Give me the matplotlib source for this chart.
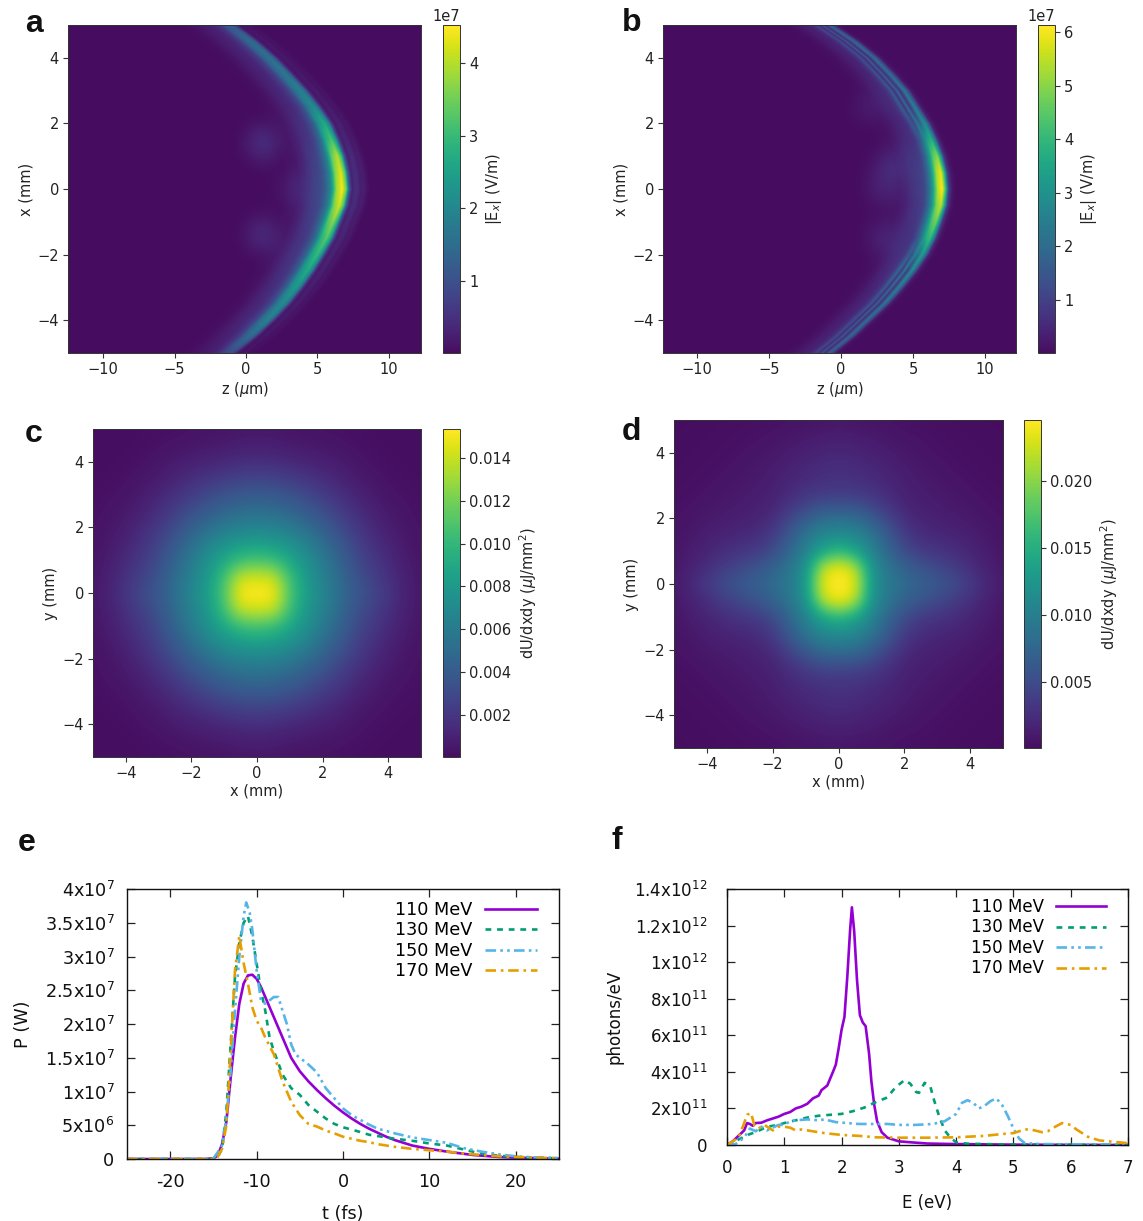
import numpy as np
import matplotlib
matplotlib.use("Agg")
import matplotlib.pyplot as plt
from matplotlib.colors import ListedColormap

W, H = 1143, 1221
plt.rcParams['font.family'] = ['DejaVu Sans']
plt.rcParams['mathtext.fontset'] = 'dejavusans'

# ---------- panels a, b: wavefront ridge read per row ----------
row_x = [5, 4.5, 4, 3.5, 3, 2.5, 2, 1.5, 1, .5, 0, -.5, -1, -1.5, -2, -2.5, -3, -3.5, -4, -4.5, -5]
ridge_a = [-1.1, .4, 1.7, 2.8, 3.85, 4.75, 5.5, 6.0, 6.4, 6.65, 6.75, 6.55, 6.1, 5.65, 5.0, 4.3, 3.5, 2.6, 1.5, .3, -1.1]
amp_a = [1.2, 1.5, 1.6, 1.7, 1.9, 2.1, 2.7, 3.2, 4.0, 4.3, 4.5, 4.2, 3.7, 3.3, 3.0, 2.7, 2.4, 2.1, 1.9, 1.5, 1.0]
ridge_b = [-.8, .9, 2.3, 3.4, 4.4, 5.1, 5.8, 6.3, 6.7, 6.95, 7.05, 6.95, 6.6, 6.2, 5.65, 4.9, 4.0, 3.0, 1.8, .6, -.8]
amp_b = [1.8, 2.0, 2.1, 2.2, 2.4, 2.6, 3.0, 3.8, 5.0, 5.9, 6.1, 5.5, 4.8, 4.1, 3.4, 3.0, 2.6, 2.3, 2.1, 2.0, 1.8]
off_a = [-4, -3, -2.5, -2, -1.5, -1.2, -.8, -.4, 0, .3, .5, .7, .9, 1.1, 1.3, 1.5, 1.7, 2]
prof_a = [0, .03, .08, .15, .2, .27, .45, .85, 1, .75, .25, .06, .1, .1, .05, .06, .03, 0]
off_b = [-4, -3, -2.5, -2, -1.5, -1.2, -.9, -.7, -.5, -.3, 0, .25, .45, .7, 1]
prof_b_centre = [0, .02, .06, .12, .16, .2, .35, .5, .7, .9, 1, .65, .15, .03, 0]
prof_b_edge = [0, .02, .06, .14, .2, .3, .65, .25, .8, .25, 1, .55, .12, .03, 0]
blobs_a = [(1.2, 1.4, .38), (1.2, -1.4, .34), (3.5, 0, .22)]
blobs_b = [(3.5, .7, .4), (3.0, 0, .3), (3.0, -1.5, .32), (2.0, 2.5, .2)]

# ---------- panels c, d: quadrant of the fluence map (units of 1e-3) ----------
quad_c = [
    [15.4, 15.4, 11, 8.3, 6.8, 5.2, 3.9, 3.0, 2.0, 1.0, .5],
    [14.2, 14, 10.5, 8, 6.5, 5.0, 3.6, 2.6, 1.7, .9, .5],
    [10.8, 10.4, 9, 7.5, 6.0, 4.6, 3.2, 2.2, 1.4, .8, .4],
    [8.5, 8.2, 7.6, 6.5, 5.2, 4, 2.7, 1.8, 1.1, .6, .35],
    [6.6, 6.5, 6, 5.2, 4.3, 3.2, 2.2, 1.4, .8, .5, .3],
    [5.2, 5.1, 4.7, 4, 3.3, 2.4, 1.6, 1, .6, .4, .25],
    [4, 3.9, 3.5, 3, 2.3, 1.7, 1.1, .7, .4, .3, .2],
    [2.7, 2.6, 2.3, 1.9, 1.5, 1.1, .7, .5, .3, .2, .15],
    [1.6, 1.5, 1.3, 1.1, .9, .7, .5, .3, .2, .15, .1],
    [.9, .8, .7, .6, .5, .4, .3, .2, .15, .1, .1],
    [.5, .5, .4, .35, .3, .25, .2, .15, .1, .1, .1]]
quad_d = [
    [24.6, 24, 12.5, 9.5, 8, 7, 6, 5.2, 3.5, 2, 1],
    [24.6, 22, 12, 9, 7.2, 5.8, 4.8, 3.7, 2.5, 1.5, .8],
    [16, 14, 10.5, 7.5, 5, 3.6, 3, 2.5, 1.8, 1.2, .7],
    [11.5, 11, 9, 6.3, 3.6, 2.4, 2, 1.7, 1.3, .9, .6],
    [8.5, 8.2, 6.5, 4.5, 2.4, 1.7, 1.4, 1.2, 1, .7, .5],
    [5, 4.8, 4, 2.7, 1.7, 1.3, 1.1, .9, .7, .5, .4],
    [3, 2.9, 2.5, 2, 1.4, 1.1, .9, .7, .5, .4, .3],
    [2.6, 2.4, 2, 1.6, 1.2, .9, .7, .5, .4, .3, .25],
    [2, 1.8, 1.5, 1.2, .9, .7, .5, .4, .3, .25, .2],
    [1.3, 1.2, 1, .8, .6, .5, .4, .3, .25, .2, .15],
    [.8, .7, .6, .5, .4, .35, .3, .25, .2, .15, .15]]

# ---------- panel e ----------
labels = ['110 MeV', '130 MeV', '150 MeV', '170 MeV']
colors = ['#9400d3', '#009e73', '#56b4e9', '#e69f00']
styles = ['-', (0, (2.2, 2.2)), (0, (4, 1.6, 1, 1.6, 1, 1.6)), (0, (4, 1.8, 1, 1.8))]

t110 = [-25, -16, -15, -14.5, -14, -13.5, -13, -12.5, -12, -11.5, -11, -10.5, -10, -9.5, -9, -8, -7, -6, -5, -4, -3, -2, -1, 0, 1, 2, 3, 4, 5, 6, 8, 10, 12, 15, 18, 20, 25]
p110 = [0, 0, .1, .5, 2.2, 5.5, 12, 18, 23, 26, 27.2, 27.3, 26.7, 25.5, 24, 21, 18, 15, 13, 11.5, 10.2, 9, 7.9, 6.9, 6, 5.2, 4.5, 3.9, 3.3, 2.8, 2, 1.5, 1.1, .6, .3, .2, .05]
t130 = [-25, -15, -14.5, -14, -13.5, -13, -12.5, -12, -11.5, -11, -10.5, -10, -9.5, -9, -8.5, -8, -7, -6, -5, -4, -3, -2, -1, 0, 2, 3, 4, 6, 8, 10, 12, 14, 16, 18, 20, 25]
p130 = [0, 0, .3, 1.5, 7, 17, 27, 32, 35, 36, 33, 29, 25, 22, 18, 16, 12.5, 10.5, 9.5, 8, 7, 6, 5.2, 4.7, 4, 3.6, 3.4, 3, 2.7, 2.3, 2, 1.4, .8, .5, .3, .1]
t150 = [-25, -15.5, -15, -14.5, -14, -13.5, -13, -12.5, -12, -11.5, -11.2, -10.8, -10.5, -10, -9.5, -9, -8.5, -8, -7.5, -7, -6.5, -6, -5.5, -5, -4, -3, -2, -1, 0, 1, 2, 3, 4, 6, 8, 10, 12, 14, 16, 18, 20, 22, 25]
p150 = [0, 0, .1, 1, 2, 6, 13, 22, 30, 36, 38, 36.5, 34, 28, 23.5, 23, 23.5, 24, 24, 22, 20, 17, 15.5, 15, 14, 12.8, 10.5, 9, 7.5, 6.5, 5.8, 5.1, 4.5, 3.8, 3.2, 2.8, 2.4, 1.6, 1.1, .7, .4, .25, .15]
t170 = [-25, -15, -14.5, -14, -13.5, -13, -12.5, -12, -11.5, -11, -10.5, -10, -9.5, -9, -8, -7, -6, -5, -4, -3, -2, -1, 0, 1, 2, 3, 4, 6, 8, 10, 12, 14, 16, 18, 20, 25]
p170 = [0, 0, .3, 1.5, 5, 16, 28, 33, 29, 26, 22.5, 20.5, 19.5, 18, 15.5, 11.5, 8.5, 6.5, 5.2, 4.8, 4.2, 3.8, 3.3, 3, 2.7, 2.5, 2.2, 1.8, 1.5, 1.3, 1.1, .8, .6, .4, .3, .1]

# ---------- panel f ----------
e110 = [0, .1, .2, .3, .35, .4, .45, .5, .6, .7, .8, .9, 1, 1.1, 1.2, 1.3, 1.4, 1.5, 1.6, 1.65, 1.75, 1.85, 1.9, 1.95, 2, 2.05, 2.1, 2.15, 2.18, 2.22, 2.27, 2.32, 2.37, 2.42, 2.48, 2.52, 2.57, 2.62, 2.7, 2.8, 2.9, 3, 3.2, 3.5, 4, 5, 7]
n110 = [0, .2, .5, .8, 1.2, 1.15, 1.05, 1.2, 1.22, 1.35, 1.45, 1.55, 1.7, 1.8, 2.0, 2.1, 2.25, 2.55, 2.7, 3, 3.25, 4.0, 4.4, 5.3, 6.3, 7.0, 9.2, 11.8, 13, 11.7, 9, 7.1, 6.7, 6.5, 5, 3.5, 2.2, 1.3, .7, .4, .3, .2, .15, .08, .05, .02, 0]
e130 = [0, .2, .3, .4, .5, .6, .7, .8, .9, 1, 1.2, 1.4, 1.6, 1.8, 2, 2.2, 2.4, 2.6, 2.8, 2.9, 3, 3.1, 3.2, 3.3, 3.35, 3.45, 3.55, 3.6, 3.7, 3.8, 3.9, 4, 4.2, 5, 7]
n130 = [0, .3, .45, .6, .7, .85, 1, 1.05, 1.1, 1.2, 1.35, 1.5, 1.6, 1.65, 1.7, 1.85, 2.05, 2.35, 2.6, 3, 3.3, 3.55, 3.35, 2.9, 2.85, 3.4, 3.2, 2.6, 1.6, .8, .4, .15, .07, .02, 0]
e150 = [0, .15, .3, .4, .5, .6, .7, .8, .9, 1, 1.1, 1.2, 1.4, 1.6, 1.7, 1.9, 2.1, 2.3, 2.6, 2.8, 3, 3.3, 3.6, 3.8, 4, 4.1, 4.2, 4.3, 4.4, 4.5, 4.6, 4.7, 4.8, 4.9, 5, 5.1, 5.2, 5.5, 7]
n150 = [0, .05, .4, .9, .75, 1, .8, .95, 1.1, 1.1, 1.3, 1.35, 1.4, 1.35, 1.4, 1.25, 1.2, 1.15, 1.15, 1.15, 1.1, 1.1, 1.15, 1.3, 1.7, 2.3, 2.45, 2.3, 2, 2.15, 2.4, 2.55, 2.2, 1.6, .9, .35, .1, .05, .02]
e170 = [0, .1, .2, .3, .35, .42, .48, .55, .65, .7, .8, .9, 1, 1.1, 1.2, 1.3, 1.5, 1.7, 2, 2.3, 2.6, 3, 3.5, 4, 4.5, 4.8, 5, 5.2, 5.3, 5.5, 5.6, 5.7, 5.85, 6, 6.1, 6.3, 6.5, 7]
n170 = [0, .2, .4, 1.2, 1.65, 1.75, 1.05, .9, 1.1, 1.0, .8, 1, 1.0, .95, .8, .85, .75, .65, .55, .5, .42, .4, .4, .42, .5, .6, .65, .85, .85, .7, .75, .95, 1.2, 1.1, .85, .45, .25, .1]

t_ticks = [-20, -10, 0, 10, 20]
t_ticklabels = ['-20', '-10', '0', '10', '20']
e_ticks = [0, 1, 2, 3, 4, 5, 6, 7]
e_ticklabels = ['0', '1', '2', '3', '4', '5', '6', '7']
p_ticks = [0, 5e6, 1e7, 1.5e7, 2e7, 2.5e7, 3e7, 3.5e7, 4e7]
p_ticklabels = ['0', '5x10$^{6}$', '1x10$^{7}$', '1.5x10$^{7}$', '2x10$^{7}$', '2.5x10$^{7}$', '3x10$^{7}$', '3.5x10$^{7}$', '4x10$^{7}$']
n_ticks = [0, 2e11, 4e11, 6e11, 8e11, 1e12, 1.2e12, 1.4e12]
n_ticklabels = ['0', '2x10$^{11}$', '4x10$^{11}$', '6x10$^{11}$', '8x10$^{11}$', '1x10$^{12}$', '1.2x10$^{12}$', '1.4x10$^{12}$']


def box(l, t, r, b):
    return [l / W, 1 - b / H, (r - l) / W, (b - t) / H]


fig = plt.figure(figsize=(W / 100, H / 100), dpi=100)
FS = 10.5
EDGE = '#333333'
VIR = ListedColormap(plt.get_cmap('viridis')(np.linspace(.035, 1, 256)))


def style_py(ax, xl, yl):
    ax.tick_params(labelsize=FS, length=3.5, width=.8, color=EDGE, labelcolor='#222222', pad=3)
    for s in ax.spines.values():
        s.set_color(EDGE)
        s.set_linewidth(.7)
    ax.set_xlabel(xl, fontsize=FS, color='#222222', labelpad=2)
    ax.set_ylabel(yl, fontsize=FS, color='#222222', labelpad=3)


def cbar(im, box_px, ticks, label, pad=4):
    cax = fig.add_axes(box(*box_px))
    cb = fig.colorbar(im, cax=cax)
    cb.set_ticks(ticks)
    cb.ax.tick_params(labelsize=FS, length=3.5, width=.8, color=EDGE, labelcolor='#222222', pad=3)
    cb.outline.set_edgecolor(EDGE)
    cb.outline.set_linewidth(.7)
    cb.set_label(label, fontsize=FS, color='#222222', labelpad=pad)
    cb.ax.yaxis.get_offset_text().set_fontsize(FS)
    return cb


def arc_panel(ax_px, cb_px, xlim, ridge, amp, off, pc, pe, blobs, vmin, vmax, ticks):
    ax = fig.add_axes(box(*ax_px))
    z = np.linspace(xlim[0], xlim[1], 700)
    x = np.linspace(-5, 5, 500)
    Z, X = np.meshgrid(z, x)
    rows_x = np.array(row_x[::-1])
    Rr = np.interp(x, rows_x, np.array(ridge[::-1]))
    Aa = np.interp(x, rows_x, np.array(amp[::-1]))
    F = np.zeros_like(Z)
    for i, xv in enumerate(x):
        w = np.clip((abs(xv) - 1.5) / 1.0, 0, 1)
        p = (1 - w) * np.array(pc) + w * np.array(pe)
        F[i] = Aa[i] * np.interp(z - Rr[i], off, p)
    for bz, bx, ba in blobs:
        F = F + ba * np.exp(-((Z - bz) / 1.3) ** 2 - ((X - bx) / .6) ** 2)
    F = np.maximum(F, vmin)
    im = ax.imshow(F * 1e7, origin='lower', extent=[xlim[0], xlim[1], -5, 5], aspect='auto',
                   cmap=VIR, vmin=vmin * 1e7, vmax=vmax * 1e7, interpolation='bilinear')
    ax.set_xticks([-10, -5, 0, 5, 10])
    ax.set_yticks([-4, -2, 0, 2, 4])
    style_py(ax, r'z ($\mu$m)', 'x (mm)')
    cbar(im, cb_px, [t * 1e7 for t in ticks], r'|E$_x$| (V/m)')
    return ax


def map_panel(ax_px, cb_px, quad, vmin, vmax, ticks):
    ax = fig.add_axes(box(*ax_px))
    q = np.array(quad) * 1e-3
    top = np.hstack([q[:, :0:-1], q])
    full = np.vstack([top[:0:-1], top])
    im = ax.imshow(full, origin='lower', extent=[-5.25, 5.25, -5.25, 5.25], aspect='auto',
                   cmap=VIR, vmin=vmin, vmax=vmax, interpolation='bicubic')
    ax.set_xlim(-5, 5)
    ax.set_ylim(-5, 5)
    ax.set_xticks([-4, -2, 0, 2, 4])
    ax.set_yticks([-4, -2, 0, 2, 4])
    style_py(ax, 'x (mm)', 'y (mm)')
    cbar(im, cb_px, ticks, r'dU/dxdy ($\mu$J/mm$^2$)')
    return ax


arc_panel((68, 25, 421, 353), (443, 25, 460, 353), (-12.45, 12.24), ridge_a, amp_a, off_a, prof_a, prof_a,
          blobs_a, .01, 4.52, [1, 2, 3, 4])
arc_panel((663, 25, 1016, 353), (1038, 25, 1055, 353), (-12.36, 12.15), ridge_b, amp_b, off_b, prof_b_centre, prof_b_edge,
          blobs_b, .01, 6.13, [1, 2, 3, 4, 5, 6])
map_panel((93, 429, 421, 757), (443, 429, 460, 757), quad_c, .00004, .01535,
          [.002, .004, .006, .008, .010, .012, .014])
map_panel((674, 420, 1003, 748), (1024, 420, 1041, 748), quad_d, .00007, .02455,
          [.005, .010, .015, .020])


def gp_panel(ax_px, series, scale, xlim, ylim, xt, xtl, yt, ytl, xl, yl, leg_anchor, fs, xpad, ypad, xlp, ylp, spacing, hl):
    ax = fig.add_axes(box(*ax_px))
    for (xs, ys), lab, c, st in zip(series, labels, colors, styles):
        ax.plot(xs, np.array(ys) * scale, color=c, ls=st, lw=1.9, label=lab)
    ax.set_xlim(*xlim)
    ax.set_ylim(*ylim)
    ax.set_xticks(xt)
    ax.set_xticklabels(xtl)
    ax.set_yticks(yt)
    ax.set_yticklabels(ytl)
    ax.tick_params(direction='in', top=True, right=True, length=6, width=.9, color='#222222', labelsize=fs,
                   labelcolor='#111111')
    ax.tick_params(axis='x', pad=xpad)
    ax.tick_params(axis='y', pad=ypad)
    for s in ax.spines.values():
        s.set_linewidth(1.0)
        s.set_color('#111111')
    ax.set_xlabel(xl, fontsize=fs, labelpad=xlp, color='#111111')
    ax.set_ylabel(yl, fontsize=fs, labelpad=ylp, color='#111111')
    ax.legend(loc='upper right', bbox_to_anchor=leg_anchor, frameon=False, markerfirst=False, fontsize=fs,
              handlelength=hl, labelspacing=spacing, handletextpad=.7, borderpad=0, borderaxespad=0)
    return ax


gp_panel((127, 889, 559, 1159), [(t110, p110), (t130, p130), (t150, p150), (t170, p170)], 1e6,
         (-25, 25), (0, 4e7), t_ticks, t_ticklabels, p_ticks, p_ticklabels, 't (fs)', 'P (W)', (.949, .955),
         12.7, 10, 9, 10, 9, .13, 2.95)
gp_panel((727, 889, 1128, 1145), [(e110, n110), (e130, n130), (e150, n150), (e170, n170)], 1e11,
         (0, 7), (0, 1.4e12), e_ticks, e_ticklabels, n_ticks, n_ticklabels, 'E (eV)', 'photons/eV', (.945, .965),
         12, 10, 14, 12, 8, .15, 3.0)

letters = [('a', 25, 24), ('b', 622, 23), ('c', 25, 434), ('d', 622, 432), ('e', 18, 843), ('f', 612, 841)]
for s, px, py in letters:
    fig.text(px / W, 1 - py / H, s, fontsize=23, fontweight='bold', family='Liberation Sans', ha='left', va='center', color='#111111')

fig.savefig('out.png', dpi=100)
